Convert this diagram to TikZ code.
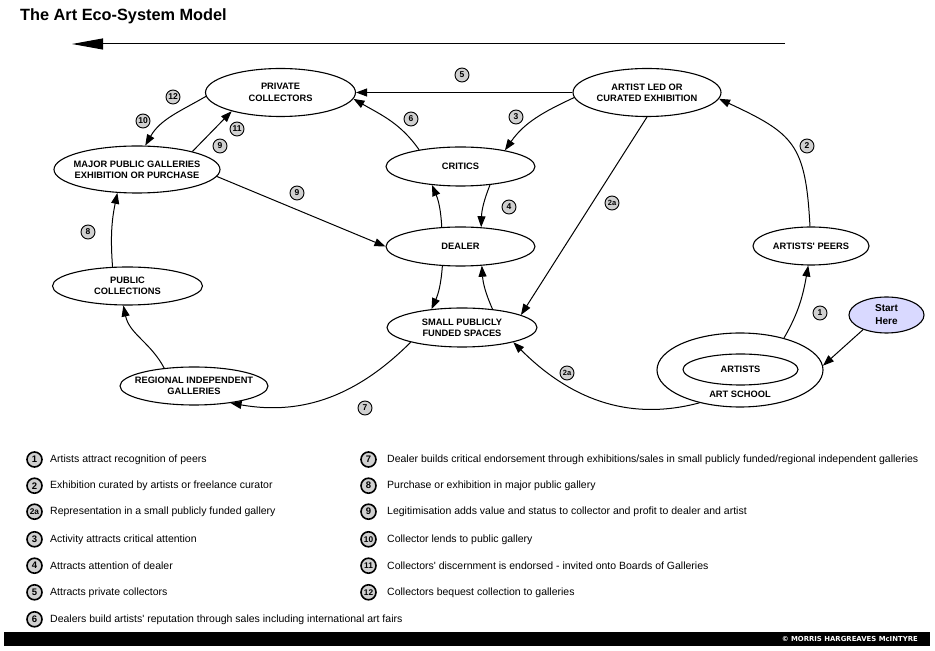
\documentclass[tikz,border=0pt]{standalone}
\usepackage{fontspec}
\setmainfont{Liberation Sans}[Ligatures=TeXOff]
\newfontfamily\creditfont{DejaVu Sans}
\usetikzlibrary{shapes.geometric,arrows.meta}

\definecolor{badgegrey}{HTML}{D0D0D0}
\definecolor{startfill}{HTML}{D9D9FF}

\tikzset{
  eco/.style={ellipse, draw, line width=1.1pt, inner xsep=-7pt, inner ysep=0pt,
    align=center, font=\bfseries\fontsize{9.3}{11.3}\selectfont},
  badge/.style={circle, draw, line width=0.9pt, fill=badgegrey, minimum size=14pt,
    inner sep=0pt, font=\bfseries\fontsize{8.5}{9}\selectfont},
  keybadge/.style={badge, line width=1.6pt, minimum size=15pt,
    font=\bfseries\fontsize{9.5}{10}\selectfont},
  keytext/.style={anchor=west, inner sep=0pt, font=\fontsize{10.5}{12}\selectfont},
  flow/.style={line width=1pt, -{Triangle[length=11pt,width=8pt]}},
}

\begin{document}
\begin{tikzpicture}[x=1pt,y=1pt]
  \useasboundingbox (0,0) rectangle (935,651);
  \node[anchor=base west, inner sep=0pt, font=\bfseries\fontsize{16.3}{19}\selectfont]
    (title) at (20,630.5) {The Art Eco-System Model};

  % direction of flow
  \coordinate (flowR) at (785,607);
  \coordinate (flowL) at (72,607);
  \draw[line width=1pt, -{Triangle[length=31pt,width=11pt]}] (flowR) -- (flowL);

  % stages
  \node[eco, minimum width=150pt, minimum height=48pt] (pc) at (280.5,558.5) {PRIVATE\\COLLECTORS};
  \node[eco, minimum width=148pt, minimum height=48pt] (ale) at (647,558.5) {ARTIST LED OR\\CURATED EXHIBITION};
  \node[eco, minimum width=166pt, minimum height=47pt] (mpg) at (137,481.5) {MAJOR PUBLIC GALLERIES\\EXHIBITION OR PURCHASE};
  \node[eco, minimum width=149pt, minimum height=39pt] (crit) at (460.5,484.5) {CRITICS};
  \node[eco, minimum width=149pt, minimum height=39pt] (deal) at (460.5,404.5) {DEALER};
  \node[eco, minimum width=150pt, minimum height=38pt] (pubc) at (127.5,365) {PUBLIC\\COLLECTIONS};
  \node[eco, minimum width=150pt, minimum height=39pt] (spfs) at (462,323.5) {SMALL PUBLICLY\\FUNDED SPACES};
  \node[eco, minimum width=148pt, minimum height=38pt] (reg) at (194,265) {REGIONAL INDEPENDENT\\GALLERIES};
  \node[eco, minimum width=116pt, minimum height=38pt] (peers) at (811,405) {ARTISTS' PEERS};
  \node[eco, minimum width=75pt, minimum height=36pt, fill=startfill,
    font=\bfseries\fontsize{10}{13}\selectfont] (start) at (886.5,336) {Start\\Here};
  \node[eco, minimum width=166pt, minimum height=74pt] (school) at (740,281) {};
  \node[eco, minimum width=115pt, minimum height=31pt] (artists) at (740.5,281.5) {ARTISTS};
  \node[inner sep=0pt, font=\bfseries\fontsize{9.3}{11}\selectfont] (schoollbl) at (740,257) {ART SCHOOL};

  % connectors
  \draw[flow] (ale.west) -- (pc.east);
  \draw[flow] (pc.183) to[out=210,in=60] (mpg.71);
  \draw[flow] (mpg.18) -- (pc.201);
  \draw[flow] (mpg.-5) -- (deal.west);
  \draw[flow] (crit.158) to[out=125,in=-30] (pc.-5);
  \draw[flow] (ale.184) to[out=205,in=55] (crit.20);
  \draw[flow] (crit.-32) to[bend right=10] (deal.43);
  \draw[flow] (deal.134) to[bend right=10] (crit.213);
  \draw[flow] (ale.south) -- (spfs.12);
  \draw[flow] (deal.227) to[bend left=10] (spfs.149);
  \draw[flow] (spfs.31) to[bend left=10] (deal.-42);
  \draw[flow] (spfs.196) to[out=225,in=-10] (reg.-25);
  \draw[flow] (reg.149) to[out=118,in=-78] (pubc.-102);
  \draw[flow] (pubc.128) to[bend left=8] (mpg.230);
  \draw[flow] (school.36) to[out=60,in=-100] (peers.-98);
  \draw[flow] (peers.93) to[out=93,in=-25,looseness=1.35] (ale.-5);
  \draw[flow] (school.219) to[out=195,in=-45] (spfs.-16);
  \draw[flow] (start.212) -- (school.3);

  % step numbers
  \node[badge] (b5) at (462,576) {5};
  \node[badge] (b12) at (173,554) {12};
  \node[badge] (b10) at (143,530) {10};
  \node[badge] (b11) at (237,522) {11};
  \node[badge] (b9a) at (220,505) {9};
  \node[badge] (b6) at (411,532) {6};
  \node[badge] (b9b) at (297,458) {9};
  \node[badge] (b3) at (516,534) {3};
  \node[badge] (b2) at (807,505) {2};
  \node[badge] (b4) at (509,444) {4};
  \node[badge, font=\bfseries\fontsize{7.5}{8}\selectfont] (b2aa) at (612,448) {2a};
  \node[badge] (b8) at (88,419) {8};
  \node[badge] (b7) at (365,243) {7};
  \node[badge, font=\bfseries\fontsize{7.5}{8}\selectfont] (b2ab) at (567,278) {2a};
  \node[badge] (b1) at (820,338) {1};

  % key
  \node[keybadge] (k1) at (34.5,191.5) {1};
  \node[keytext] (k1txt) at (50,191.5) {Artists attract recognition of peers};
  \node[keybadge] (k2) at (34.5,165.3) {2};
  \node[keytext] (k2txt) at (50,165.3) {Exhibition curated by artists or freelance curator};
  \node[keybadge, font=\bfseries\fontsize{8.3}{9}\selectfont] (k2a) at (34.5,139.3) {2a};
  \node[keytext] (k2atxt) at (50,139.3) {Representation in a small publicly funded gallery};
  \node[keybadge] (k3) at (34.5,111.7) {3};
  \node[keytext] (k3txt) at (50,111.7) {Activity attracts critical attention};
  \node[keybadge] (k4) at (34.5,85.3) {4};
  \node[keytext] (k4txt) at (50,85.3) {Attracts attention of dealer};
  \node[keybadge] (k5) at (34.5,58.7) {5};
  \node[keytext] (k5txt) at (50,58.7) {Attracts private collectors};
  \node[keybadge] (k6) at (34.5,31.7) {6};
  \node[keytext] (k6txt) at (50,31.7) {Dealers build artists' reputation through sales including international art fairs};

  \node[keybadge] (k7) at (368.5,191.5) {7};
  \node[keytext] (k7txt) at (387,191.5) {Dealer builds critical endorsement through exhibitions/sales in small publicly funded/regional independent galleries};
  \node[keybadge] (k8) at (368.5,165.3) {8};
  \node[keytext] (k8txt) at (387,165.3) {Purchase or exhibition in major public gallery};
  \node[keybadge] (k9) at (368.5,139.3) {9};
  \node[keytext] (k9txt) at (387,139.3) {Legitimisation adds value and status to collector and profit to dealer and artist};
  \node[keybadge, font=\bfseries\fontsize{8.3}{9}\selectfont] (k10) at (368.5,111.7) {10};
  \node[keytext] (k10txt) at (387,111.7) {Collector lends to public gallery};
  \node[keybadge, font=\bfseries\fontsize{8.3}{9}\selectfont] (k11) at (368.5,85.3) {11};
  \node[keytext] (k11txt) at (387,85.3) {Collectors' discernment is endorsed - invited onto Boards of Galleries};
  \node[keybadge, font=\bfseries\fontsize{8.3}{9}\selectfont] (k12) at (368.5,58.7) {12};
  \node[keytext] (k12txt) at (387,58.7) {Collectors bequest collection to galleries};

  % footer
  \node[fill=black, inner sep=0pt, minimum width=926pt, minimum height=13.3pt,
    anchor=south west] (footbar) at (4,5) {};
  \node[anchor=east, inner sep=0pt, text=white,
    font=\creditfont\bfseries\fontsize{6.9}{8}\selectfont] (credit) at (918,11.7)
    {© MORRIS HARGREAVES McINTYRE};
\end{tikzpicture}
\end{document}
